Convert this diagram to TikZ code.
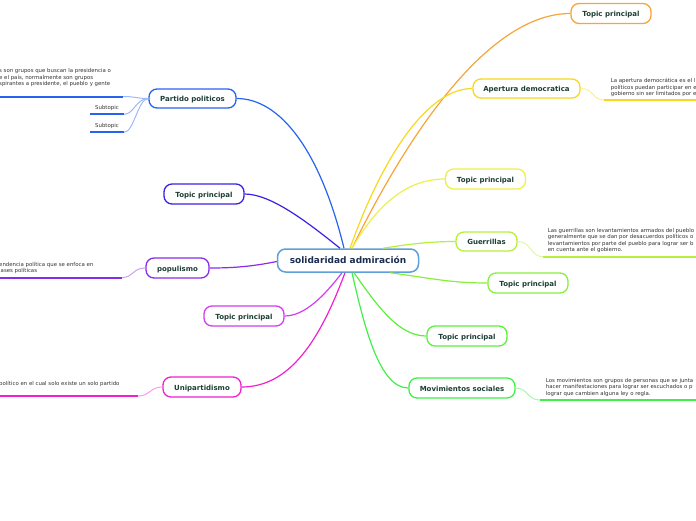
\documentclass[tikz,border=0pt]{standalone}
\usepackage{fontspec}
\setmainfont{DejaVu Sans}
\definecolor{txt}{HTML}{1D3F33}
\definecolor{navy}{HTML}{1C2D4F}
\definecolor{notetxt}{HTML}{333333}
\definecolor{cBlueC}{HTML}{5DA0DA}
\definecolor{cOrange}{HTML}{F7A43A}
\definecolor{cGold}{HTML}{F8D81C}
\definecolor{cYellow}{HTML}{EDF04A}
\definecolor{cLGreen}{HTML}{B4F03C}
\definecolor{cGreenA}{HTML}{86F03C}
\definecolor{cGreenB}{HTML}{5CF03C}
\definecolor{cGreenC}{HTML}{40F048}
\definecolor{cBlue}{HTML}{2563F0}
\definecolor{cIndigo}{HTML}{3A22E2}
\definecolor{cPurple}{HTML}{8A2BE8}
\definecolor{cViolet}{HTML}{D23CF0}
\definecolor{cMagenta}{HTML}{F020D0}
\begin{document}
\begin{tikzpicture}[x=1pt,y=-1pt,
  topic/.style={draw=#1, line width=1.3pt, fill=white, rounded corners=8pt,
    minimum height=20pt, minimum width=80pt, inner sep=0pt,
    text height=6.8pt, text depth=0pt,
    font=\bfseries\fontsize{7}{8}\selectfont, text=txt},
  conn/.style={draw=#1, line width=1.2pt},
  note/.style={font=\fontsize{5.4}{6.5}\selectfont, text=notetxt, align=left,
    inner sep=0pt, anchor=north west},
  sub/.style={font=\fontsize{5.4}{6.5}\selectfont, text=notetxt, inner sep=0pt},
  uline/.style={draw=#1, line width=2pt}]
\useasboundingbox (0,0) rectangle (696,520);
\clip (0,0) rectangle (696,520);

% central
\node[topic=cBlueC, line width=1.5pt, minimum width=141pt, minimum height=23pt,
  text height=6.4pt, text depth=0pt,
  font=\bfseries\fontsize{9}{10}\selectfont, text=navy] (c) at (348,260.5) {solidaridad admiración};

% right side
\node[topic=cOrange] (t1) at (611,13.5) {Topic principal};
\node[topic=cGold, minimum width=107pt, minimum height=19pt] (ap) at (526.5,88.5) {Apertura democratica};
\node[topic=cYellow] (t2) at (485.5,179) {Topic principal};
\node[topic=cLGreen, minimum width=61pt, minimum height=19pt] (gu) at (486.5,241.5) {Guerrillas};
\node[topic=cGreenA] (t3) at (528,283) {Topic principal};
\node[topic=cGreenB] (t4) at (467,336) {Topic principal};
\node[topic=cGreenC, minimum width=106pt] (mo) at (462,388) {Movimientos sociales};

% left side
\node[topic=cBlue, minimum width=87pt, minimum height=19pt] (pa) at (192.5,98.5) {Partido politicos};
\node[topic=cIndigo] (t5) at (204,194) {Topic principal};
\node[topic=cPurple, minimum width=63pt] (po) at (177.5,268) {populismo};
\node[topic=cViolet] (t6) at (244,316) {Topic principal};
\node[topic=cMagenta, minimum width=78pt] (un) at (202,387) {Unipartidismo};

% main connectors
\draw[conn=cBlue] ([xshift=-4pt]c.north) .. controls (320,150) and (280,98.5) .. (pa.east);
\draw[conn=cOrange] ([xshift=4pt]c.north) .. controls (410,130) and (490,13.5) .. (t1.west);
\draw[conn=cGold] ([xshift=2pt]c.north) .. controls (385,150) and (430,88.5) .. (ap.west);
\draw[conn=cYellow] ([xshift=4pt]c.north) .. controls (380,200) and (410,179) .. (t2.west);
\draw[conn=cLGreen] ([xshift=35pt]c.north) .. controls (410,244) and (430,241.5) .. (gu.west);
\draw[conn=cGreenA] ([xshift=42pt]c.south) .. controls (430,278) and (450,283) .. (t3.west);
\draw[conn=cGreenB] ([xshift=6pt]c.south) .. controls (380,310) and (400,336) .. (t4.west);
\draw[conn=cGreenC] ([xshift=4pt]c.south) .. controls (365,330) and (380,388) .. (mo.west);
\draw[conn=cIndigo] ([xshift=-8pt]c.north) .. controls (305,220) and (270,194) .. (t5.east);
\draw[conn=cPurple] ([yshift=-1pt]c.west) .. controls (250,267) and (230,268) .. (po.east);
\draw[conn=cViolet] ([xshift=-6pt]c.south) .. controls (325,295) and (305,316) .. (t6.east);
\draw[conn=cMagenta] ([xshift=-3pt]c.south) .. controls (320,340) and (290,387) .. (un.east);

% Partido politicos note and subtopics
\node[note] (pan) at (-1,68.2) {s son grupos que buscan la presidencia o\\e el país, normalmente son grupos\\spirantes a presidente, el pueblo y gente};
\coordinate (pa1) at (0,96.5);
\coordinate (pa2) at (123,96.5);
\draw[uline=cBlue] (pa1) -- (pa2);
\draw[conn=cBlue!45, line width=1pt] (pa.west) .. controls (136,98.5) and (136,96.5) .. (pa2);
\node[sub] (s1) at (107,107.7) {Subtopic};
\coordinate (s1a) at (90,114.3);
\coordinate (s1b) at (124,114.3);
\draw[uline=cBlue] (s1a) -- (s1b);
\draw[conn=cBlue!45, line width=1pt] (pa.west) .. controls (136,98.5) and (134,114.3) .. (s1b);
\node[sub] (s2) at (107,125.7) {Subtopic};
\coordinate (s2a) at (90,132.3);
\coordinate (s2b) at (124,132.3);
\draw[uline=cBlue] (s2a) -- (s2b);
\draw[conn=cBlue!45, line width=1pt] (pa.west) .. controls (138,98.5) and (134,132.3) .. (s2b);

% populismo note
\node[note] (pon) at (-1,261.8) {endencia política que se enfoca en\\lases políticas};
\coordinate (po1) at (0,277.5);
\coordinate (po2) at (122,277.5);
\draw[uline=cPurple] (po1) -- (po2);
\draw[conn=cPurple!45, line width=1pt] (po.west) .. controls (132,268) and (134,277.5) .. (po2);

% Unipartidismo note
\node[note] (unn) at (-1,380.5) {político en el cual solo existe un solo partido};
\coordinate (un1) at (0,396);
\coordinate (un2) at (138,396);
\draw[uline=cMagenta] (un1) -- (un2);
\draw[conn=cMagenta!45, line width=1pt] (un.west) .. controls (150,387) and (150,396) .. (un2);

% Apertura note
\node[note] (apn) at (610.7,78.3) {La apertura democrática es el l\\políticos puedan participar en e\\gobierno sin ser limitados por e};
\coordinate (ap1) at (604,100);
\coordinate (ap2) at (697,100);
\draw[uline=cGold] (ap1) -- (ap2);
\draw[conn=cGold!45, line width=1pt] (ap.east) .. controls (594,88.5) and (592,100) .. (ap1);

% Guerrillas note
\node[note] (gun) at (547.7,228) {Las guerrillas son levantamientos armados del pueblo\\generalmente que se dan por desacuerdos políticos o\\levantamientos por parte del pueblo para lograr ser b\\en cuenta ante el gobierno.};
\coordinate (gu1) at (543,256.7);
\coordinate (gu2) at (697,256.7);
\draw[uline=cLGreen] (gu1) -- (gu2);
\draw[conn=cLGreen!45, line width=1pt] (gu.east) .. controls (532,241.5) and (530,256.7) .. (gu1);

% Movimientos note
\node[note] (mon) at (545.7,378) {Los movimientos son grupos de personas que se junta\\hacer manifestaciones para lograr ser escuchados o p\\lograr que cambien alguna ley o regla.};
\coordinate (mo1) at (540,400);
\coordinate (mo2) at (697,400);
\draw[uline=cGreenC] (mo1) -- (mo2);
\draw[conn=cGreenC!45, line width=1pt] (mo.east) .. controls (528,388) and (527,400) .. (mo1);
\end{tikzpicture}
\end{document}
